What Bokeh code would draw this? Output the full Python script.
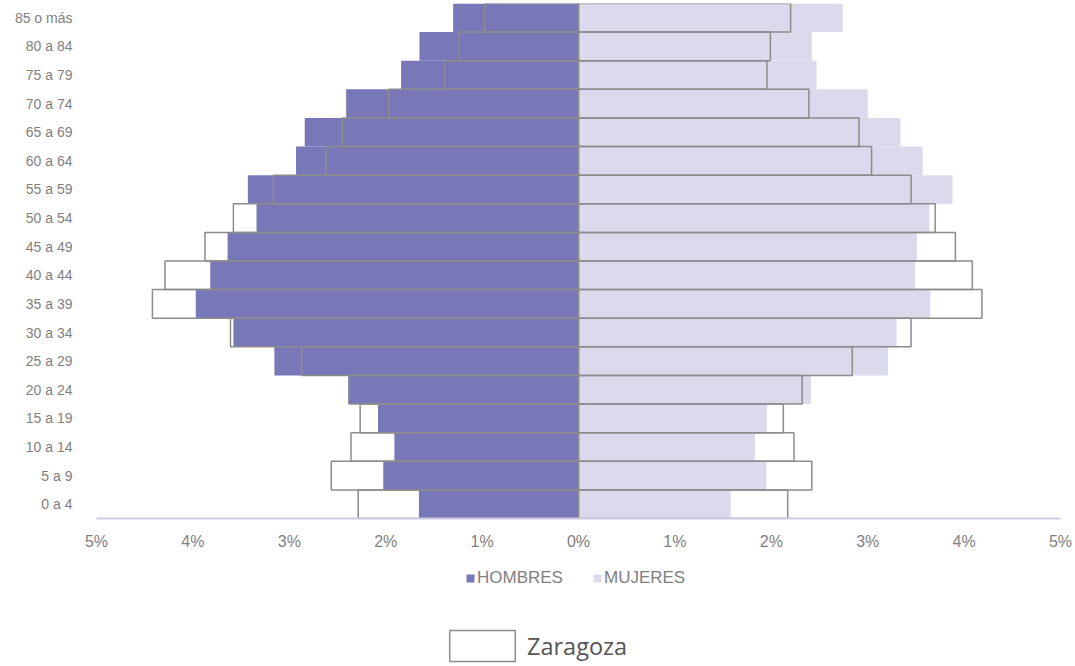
from bokeh.plotting import figure
from bokeh.models import FactorRange, Range1d, Legend, LegendItem, FixedTicker
from bokeh.layouts import column
from bokeh.embed import file_html
from bokeh.resources import INLINE

groups = ["0 a 4", "5 a 9", "10 a 14", "15 a 19", "20 a 24", "25 a 29", "30 a 34",
          "35 a 39", "40 a 44", "45 a 49", "50 a 54", "55 a 59", "60 a 64", "65 a 69",
          "70 a 74", "75 a 79", "80 a 84", "85 o más"]
hombres = [1.655, 2.025, 1.91, 2.08, 2.39, 3.155, 3.58, 3.97, 3.82, 3.64, 3.34, 3.43,
           2.93, 2.84, 2.41, 1.84, 1.65, 1.30]
mujeres = [1.58, 1.95, 1.83, 1.955, 2.41, 3.21, 3.30, 3.65, 3.49, 3.51, 3.64, 3.88,
           3.57, 3.34, 3.00, 2.47, 2.42, 2.74]
zaragoza_h = [2.285, 2.565, 2.36, 2.265, 2.38, 2.87, 3.61, 4.42, 4.29, 3.875, 3.58, 3.165,
              2.62, 2.45, 1.97, 1.385, 1.24, 0.975]
zaragoza_m = [2.17, 2.42, 2.235, 2.125, 2.32, 2.84, 3.45, 4.185, 4.085, 3.91, 3.70, 3.45,
              3.04, 2.91, 2.39, 1.955, 1.99, 2.20]
tick_values = [-5, -4, -3, -2, -1, 0, 1, 2, 3, 4, 5]
tick_labels = ["5%", "4%", "3%", "2%", "1%", "0%", "1%", "2%", "3%", "4%", "5%"]
legend_labels = ["HOMBRES", "MUJERES"]
zona_label = "Zaragoza"

PURPLE = "#7878B8"
LIGHT = "#DADAEC"
OUTLINE = "#8C8C8C"
TEXT = "#808080"
FONT = "Liberation Sans"

# ---------------- main pyramid ----------------
p = figure(width=1075, height=552, output_backend="svg", toolbar_location=None,
           y_range=FactorRange(factors=groups, range_padding=0),
           x_range=Range1d(-5, 5),
           min_border_left=96, min_border_right=15, min_border_top=3, min_border_bottom=31)
p.outline_line_color = None
p.xgrid.visible = False
p.ygrid.visible = False

neg_h = [-v for v in hombres]
neg_zh = [-v for v in zaragoza_h]

p.hbar(y=groups, left=neg_h, right=0, height=1.0, fill_color=PURPLE, line_color=None)
p.hbar(y=groups, left=0, right=mujeres, height=1.0, fill_color=LIGHT, line_color=None)
p.hbar(y=groups, left=neg_zh, right=0, height=1.0, fill_color="white", fill_alpha=0,
       line_color=OUTLINE, line_width=1.5)
p.hbar(y=groups, left=0, right=zaragoza_m, height=1.0, fill_color="white", fill_alpha=0,
       line_color=OUTLINE, line_width=1.5)

xa = p.xaxis[0]
xa.ticker = FixedTicker(ticks=tick_values)
xa.major_label_overrides = {v: l for v, l in zip(tick_values, tick_labels)}
xa.major_tick_line_color = None
xa.minor_tick_line_color = None
xa.axis_line_color = "#CBCBE4"
xa.axis_line_width = 2
xa.major_label_standoff = 8
xa.major_label_text_font = FONT
xa.major_label_text_font_size = "16px"
xa.major_label_text_color = TEXT

ya = p.yaxis[0]
ya.axis_line_color = None
ya.major_tick_line_color = None
ya.minor_tick_line_color = None
ya.major_label_standoff = 18
ya.major_label_text_font = FONT
ya.major_label_text_font_size = "14px"
ya.major_label_text_color = TEXT

# ---------------- legends area (frame is aligned with the chart above) ----------------
lg = figure(width=1075, height=114, output_backend="svg", toolbar_location=None,
            x_axis_type=None, y_axis_type=None,
            x_range=Range1d(0, 1), y_range=Range1d(0, 1),
            min_border_left=96, min_border_right=15, min_border_top=0, min_border_bottom=0)
lg.outline_line_color = None
lg.xgrid.visible = False
lg.ygrid.visible = False

# legend-key carriers: one entry each, placed outside the visible range
key_y = [-10]
key_l = [0]
key_r = [0]
k_h = lg.hbar(y=key_y, left=key_l, right=key_r, height=1.0, fill_color=PURPLE, line_color=None)
k_m = lg.hbar(y=key_y, left=key_l, right=key_r, height=1.0, fill_color=LIGHT, line_color=None)
k_z = lg.hbar(y=key_y, left=key_l, right=key_r, height=1.0, fill_color="white",
              line_color=OUTLINE, line_width=1.5)

leg1 = Legend(items=[LegendItem(label=legend_labels[0], renderers=[k_h]),
                     LegendItem(label=legend_labels[1], renderers=[k_m])],
              orientation="horizontal", location=(369, 78),
              glyph_width=10, glyph_height=10, label_standoff=2, spacing=29,
              label_text_font=FONT, label_text_font_size="17px", label_text_color=TEXT,
              label_height=17, padding=0, margin=0, border_line_color=None,
              background_fill_alpha=0)
lg.add_layout(leg1)

leg2 = Legend(items=[LegendItem(label=zona_label, renderers=[k_z])],
              orientation="horizontal", location=(345, 1),
              glyph_width=82, glyph_height=39, label_standoff=4,
              label_text_font="Open Sans", label_text_font_size="23.5px", label_text_color="#555555",
              label_height=39, padding=0, margin=0, border_line_color=None,
              background_fill_alpha=0)
lg.add_layout(leg2)

layout = column(p, lg, spacing=0)
open("out.html", "w").write(file_html(layout, INLINE))
